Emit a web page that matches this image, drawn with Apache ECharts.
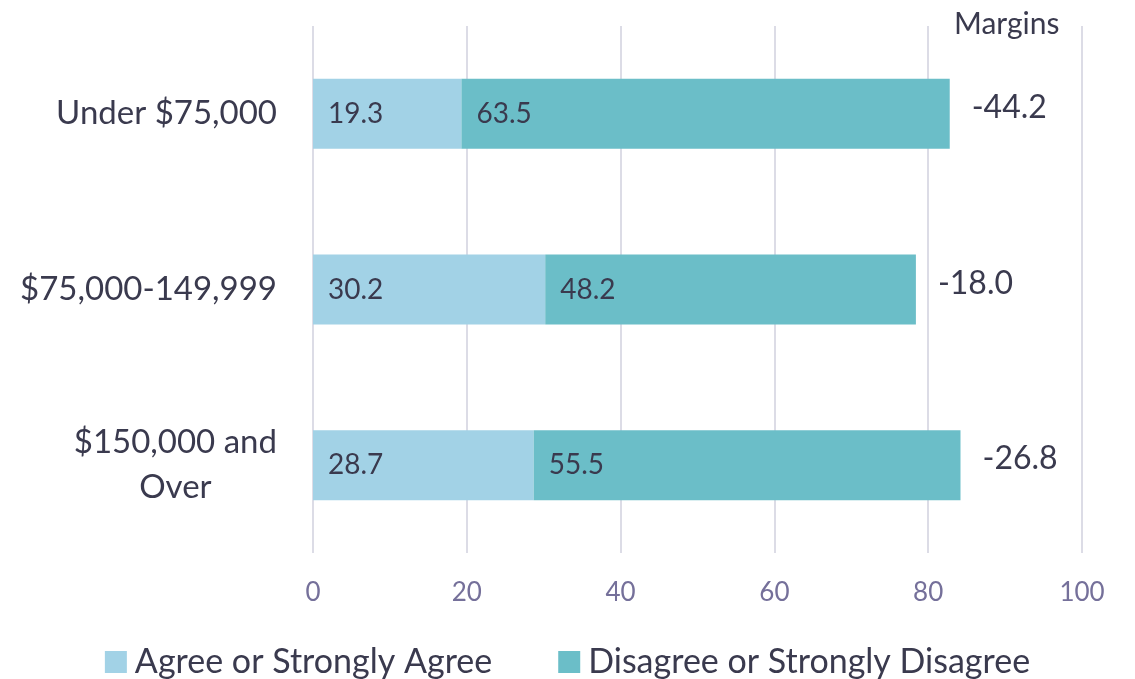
<!DOCTYPE html>
<html>
<head>
<meta charset="utf-8">
<script src="https://cdn.jsdelivr.net/npm/echarts@6/dist/echarts.min.js"></script>
<style>html,body{margin:0;padding:0;background:#fff}#c{width:1135px;height:679px}</style>
</head>
<body>
<div id="c"></div>
<script>
const categories = ['Under $75,000', '$75,000-149,999', '$150,000 and\nOver'];
const agree = [19.3, 30.2, 28.7];
const disagree = [63.5, 48.2, 55.5];
const margins = ['-44.2', '-18.0', '-26.8'];
const xTicks = [0, 20, 40, 60, 80, 100];
const seriesNames = ['Agree or Strongly Agree', 'Disagree or Strongly Disagree'];

const FONT = 'Lato';
const TXT = '#3a3a4e';
const chart = echarts.init(document.getElementById('c'));
chart.setOption({
  animation: false,
  textStyle: { fontFamily: FONT },
  title: {
    text: 'Margins', left: 949, top: 4,
    textStyle: { fontFamily: FONT, fontSize: 30, fontWeight: 'normal', color: TXT }
  },
  legend: {
    top: 640, left: 'center',
    itemWidth: 22, itemHeight: 22, itemGap: 66,
    icon: 'rect',
    textStyle: { fontFamily: FONT, fontSize: 34, color: TXT, padding: [0, 0, 0, 3] },
    data: seriesNames
  },
  grid: { left: 313, right: 53, top: 26, bottom: 126 },
  xAxis: {
    type: 'value', min: xTicks[0], max: xTicks[xTicks.length - 1], interval: 20,
    axisLine: { show: false }, axisTick: { show: false },
    splitLine: { show: true, lineStyle: { color: '#dcdce6', width: 2 } },
    axisLabel: { fontFamily: FONT, fontSize: 26, color: '#75709a', margin: 27 }
  },
  yAxis: {
    type: 'category', inverse: true, data: categories,
    axisLine: { show: false }, axisTick: { show: false },
    axisLabel: {
      margin: 36,
      formatter: v => v.split('\n').map(s => '{c|' + s + '}').join('\n'),
      rich: { c: { fontFamily: FONT, fontSize: 33, color: TXT, align: 'center', lineHeight: 45 } }
    }
  },
  series: [
    {
      name: seriesNames[0], type: 'bar', stack: 's', data: agree, barWidth: 70,
      itemStyle: { color: '#a2d2e6' },
      label: { show: true, position: 'insideLeft', distance: 15, fontFamily: FONT, fontSize: 28, color: TXT, formatter: p => p.value.toFixed(1) }
    },
    {
      name: seriesNames[1], type: 'bar', stack: 's', data: disagree, barWidth: 70,
      itemStyle: { color: '#6bbec8' },
      label: { show: true, position: 'insideLeft', distance: 15, fontFamily: FONT, fontSize: 28, color: TXT, formatter: p => p.value.toFixed(1) }
    },
    {
      name: 'margins', type: 'bar', stack: 's', data: agree.map(() => 0), barWidth: 70,
      itemStyle: { color: 'transparent' },
      label: {
        show: true, position: 'right', distance: 22, offset: [0, -6],
        fontFamily: FONT, fontSize: 32, color: TXT,
        formatter: p => margins[p.dataIndex]
      }
    }
  ]
});
</script>
</body>
</html>
